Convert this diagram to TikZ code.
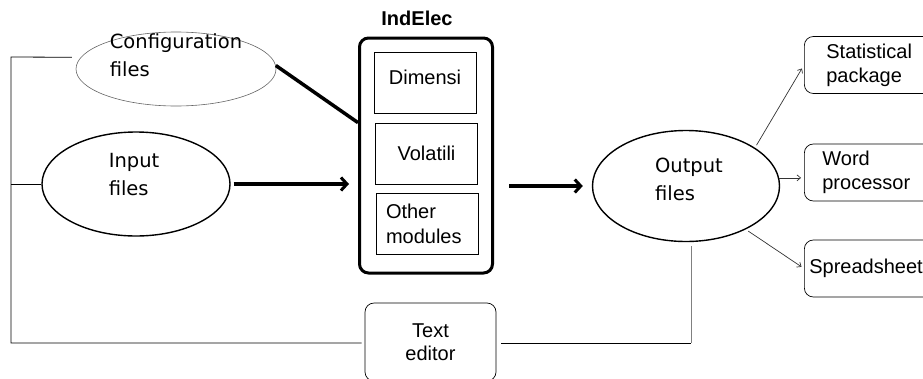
\documentclass[tikz,border=0pt]{standalone}
\usepackage{fontspec}
\setmainfont{Liberation Sans}
\newfontfamily\ellfont{DejaVu Sans}
\usetikzlibrary{shapes.geometric,arrows.meta}

\begin{document}
\begin{tikzpicture}[x=1pt,y=-1pt,
   ell/.style={ellipse,draw,line width=1.4pt,inner sep=0pt},
   elltext/.style={align=left,inner sep=0pt,
    font=\ellfont\fontsize{19.5}{28}\selectfont},
   modbox/.style={rectangle,draw,line width=0.7pt,minimum width=102pt,
    minimum height=61pt,inner sep=0pt,font=\fontsize{20}{25}\selectfont},
   outbox/.style={rectangle,draw,rounded corners=9pt,line width=0.7pt,
    minimum width=140pt,minimum height=57pt,align=left,anchor=west,
    font=\fontsize{20}{24}\selectfont},
   conn/.style={line width=0.8pt},
   thickarrow/.style={line width=3.5pt,
    -{Straight Barb[length=6pt,width=13pt,line width=3pt]}},
   thinarrow/.style={line width=0.7pt,black!80,
    -{Straight Barb[length=3.5pt,width=6pt]}}
    ]
  \useasboundingbox (0,0) rectangle (923,378);

  % -- input side
  \node[ell,draw=black!60,line width=0.6pt,minimum width=200pt,
    minimum height=74pt] at (176,69) (cfg) {};
  \node[elltext] at (176,55) (cfgtxt) {Configuration\\files};
  \node[ell,minimum width=188pt,minimum height=104pt] at (136,184) (inp) {};
  \node[elltext] at (134,175) (inptxt) {Input\\files};

  % -- program box
  \node[font=\bfseries\fontsize{20}{22}\selectfont] at (417,18) (title) {IndElec};
  \node[draw,rounded corners=9pt,line width=3pt,minimum width=133pt,
    minimum height=235pt] at (426,155.5) (ind) {};
  \node[modbox,text depth=11pt] at (425,82.5) (dim) {Dimensi};
  \node[modbox] at (426.5,153.5) (vol) {Volatili};
  \node[modbox,text width=82pt,align=left,inner xsep=10pt] at (427,223.5) (oth)
    {Other\\modules};

  % -- output side
  \node[ell,minimum width=187pt,minimum height=111pt] at (686,186) (out) {};
  \node[elltext] at (689,179) (outtxt) {Output\\files};
  \node[outbox,inner xsep=22pt,text width=96pt] at (804,65) (stat)
    {Statistical\\package};
  \node[outbox,inner xsep=18pt,text width=104pt] at (804,172.5) (word)
    {Word\\processor};
  \node[outbox,inner xsep=5pt,text width=130pt] at (804,268.5) (sheet)
    {Spreadsheet};

  % -- editor
  \node[draw,rounded corners=9pt,line width=0.7pt,minimum width=131pt,
    minimum height=78pt,align=center,font=\fontsize{20}{23}\selectfont]
    at (430.5,342) (edit) {Text\\editor};

  % -- links
  \draw[line width=3.5pt] (cfg.2) -- (ind.west |- vol.north);
  \draw[thickarrow,shorten <=3pt,shorten >=9pt] (inp.east) -- (inp.east -| ind.west);
  \draw[thickarrow,shorten <=15pt,shorten >=9pt] (out.west -| ind.east) -- (out.west);
  \draw[thinarrow,shorten <=3pt,shorten >=4pt] (out.29) -- (stat.west);
  \draw[thinarrow,shorten >=3pt] (out.5) -- (out.5 -| word.west);
  \draw[thinarrow,shorten <=3pt,shorten >=3pt] (out.-36) -- (sheet.west);

  % -- editor lines
  \coordinate (ltop) at (11,57);
  \coordinate (lbot) at (11,343);
  \coordinate (rfoot) at (691,343);
  \draw[conn,shorten <=9pt,shorten >=3pt] (cfg.173) -- (ltop) -- (lbot)
    -- (lbot -| edit.west);
  \draw[conn] (inp.west) -- (inp.west -| ltop);
  \draw[conn,shorten <=5pt] (rfoot -| edit.east) -- (rfoot);
  \draw[conn,gray,shorten >=3.5pt] (rfoot) -- (rfoot |- out.south);
\end{tikzpicture}
\end{document}
